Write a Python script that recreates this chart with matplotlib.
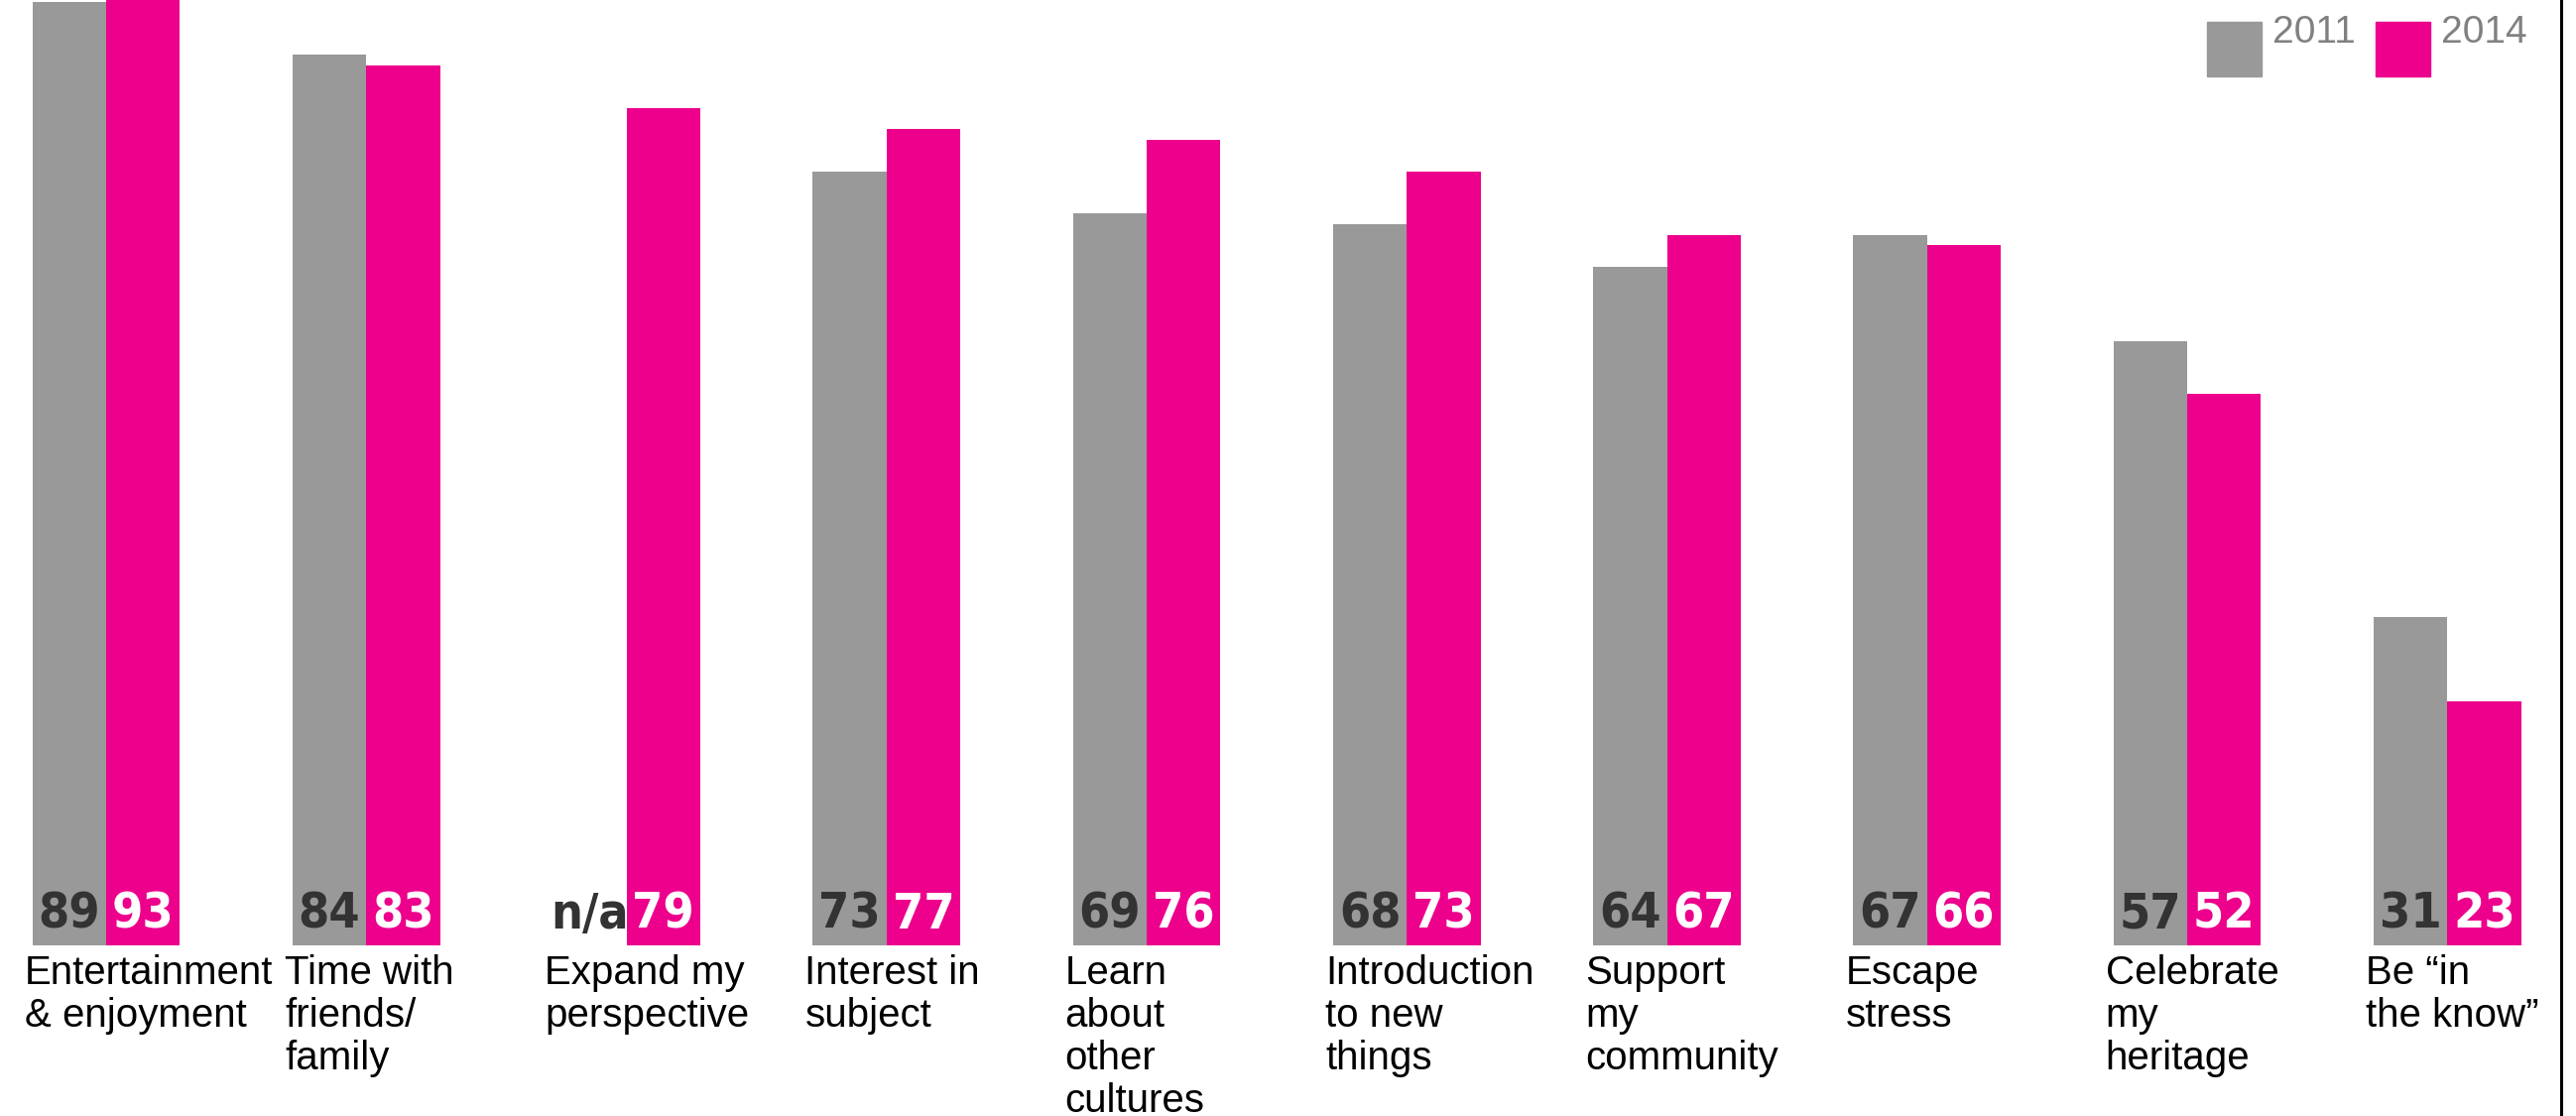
import matplotlib.pyplot as plt
from matplotlib.patches import Rectangle
from matplotlib.lines import Line2D
import numpy as np

# Motivos para visitar: 2011 x 2014 (%)
categorias = ['Entertainment\n& enjoyment', 'Time with\nfriends/\nfamily',
              'Expand my\nperspective', 'Interest in\nsubject',
              'Learn\nabout\nother\ncultures', 'Introduction\nto new\nthings',
              'Support\nmy\ncommunity', 'Escape\nstress',
              'Celebrate\nmy\nheritage', 'Be \u201cin\nthe know\u201d']
valores_2011 = [89, 84, np.nan, 73, 69, 68, 64, 67, 57, 31]
valores_2014 = [93, 83, 79, 77, 76, 73, 67, 66, 52, 23]

cinza = '#999999'
rosa = '#EC008C'

W, H = 2597, 1125
fig = plt.figure(figsize=(W / 100, H / 100), dpi=100)
ax = fig.add_axes([0, 172 / H, 1, 953 / H])

x = np.arange(len(categorias))
larg = 0.284

ax.bar(x - larg / 2, valores_2011, larg, color=cinza, linewidth=0)
ax.bar(x + larg / 2, valores_2014, larg, color=rosa, linewidth=0)

ax.set_xlim(-107 / 262.25, (W - 107) / 262.25)
ax.set_ylim(0, 89.15)
ax.axis('off')

# números dentro das barras
fonte_num = dict(family='DejaVu Sans', fontstretch='condensed', fontweight='bold',
                 fontsize=36, ha='center', va='baseline')
for i in range(len(categorias)):
    v11 = valores_2011[i]
    txt11 = 'n/a' if np.isnan(v11) else f'{v11:.0f}'
    ax.text(x[i] - larg / 2, 1.6, txt11, color='#333333', **fonte_num)
    ax.text(x[i] + larg / 2, 1.6, f'{valores_2014[i]}', color='white', **fonte_num)

# rótulos das categorias
for i, cat in enumerate(categorias):
    ax.text(x[i] - larg - 0.03, -0.8, cat, ha='left', va='top',
            fontsize=29, family='Liberation Sans', color='black',
            linespacing=1.17, clip_on=False)

# legenda
for xq, cor, ano in [(2225, cinza, '2011'), (2395, rosa, '2014')]:
    fig.patches.append(Rectangle((xq / W, 1 - 77 / H), 55 / W, 55 / H,
                                 transform=fig.transFigure, color=cor))
    fig.text((xq + 66) / W, 1 - 43 / H, ano, fontsize=28, family='Liberation Sans',
             color='#808080', ha='left', va='baseline')

# linha vertical à direita
fig.add_artist(Line2D([2582 / W] * 2, [0, 1], transform=fig.transFigure,
                      color='black', linewidth=2.2))

plt.savefig('out.png', dpi=100)
